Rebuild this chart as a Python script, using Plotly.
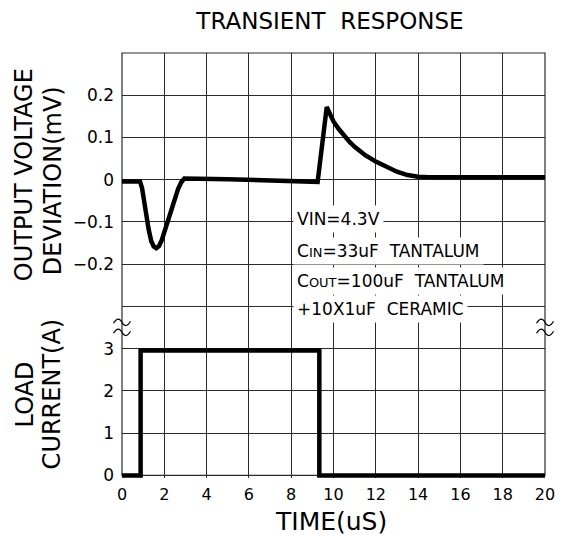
import plotly.graph_objects as go

# ---------------- data ----------------
t_v = [0, 0.85, 0.95, 1.1, 1.25, 1.38, 1.5, 1.62, 1.75, 1.88, 2.05, 2.25, 2.45, 2.65, 2.8, 2.95,
       5.0, 7.5, 9.25, 9.68, 9.8, 10.0, 10.25, 10.5, 10.75, 11.0, 11.5, 12.0, 12.5, 13.0, 13.5,
       14.0, 14.5, 20.0]
v_dev = [-0.004, -0.004, -0.02, -0.07, -0.115, -0.145, -0.158, -0.162, -0.157, -0.143, -0.115,
         -0.08, -0.048, -0.022, -0.006, 0.003, 0.001, -0.003, -0.005, 0.172, 0.158, 0.138, 0.12,
         0.104, 0.09, 0.078, 0.058, 0.043, 0.03, 0.019, 0.011, 0.007, 0.006, 0.006]

t_i = [0, 0.88, 0.88, 9.33, 9.33, 20]
i_load = [0, 0, 2.96, 2.96, 0, 0]

x_ticks = list(range(0, 21, 2))
v_ticks = [-0.3, -0.2, -0.1, 0, 0.1, 0.2, 0.3]
v_ticktext = ["", "−0.2", "−0.1", "0", "0.1", "0.2", ""]
i_ticks = [0, 1, 2, 3, 4]
i_ticktext = ["0", "1", "2", "3", ""]

notes = ["VIN=4.3V",
         "C<span style='font-size:13px'>IN</span>=33uF\u00a0 TANTALUM",
         "C<span style='font-size:13px'>OUT</span>=100uF\u00a0 TANTALUM",
         "+10X1uF\u00a0 CERAMIC"]

# ---------------- layout geometry ----------------
# The page body has an 8px margin, so the figure is drawn 8px in from the window corner.
OFF = 8
W, H = 563 - OFF, 536 - OFF
L, R = 122 - OFF, 545 - OFF          # plot frame (window pixels minus offset)
TOP = 53 - OFF
ZERO = 475 - OFF
ROW = (ZERO - TOP) / 10.0
I_MIN = -0.06
BOT = ZERO - I_MIN * ROW
PH = BOT - TOP


def px(xp):
    """window pixel x -> paper x"""
    return (xp - OFF - L) / (R - L)


def py(yp):
    """window pixel y -> paper y"""
    return (BOT - (yp - OFF)) / PH


split = (BOT - (TOP + 6 * ROW)) / PH
FONT = "DejaVu Sans"
GRID = "#2a2a2a"

fig = go.Figure()
fig.add_trace(go.Scatter(x=t_v, y=v_dev, mode="lines", xaxis="x", yaxis="y",
                         line=dict(color="black", width=4.5), hoverinfo="skip"))
fig.add_trace(go.Scatter(x=t_i, y=i_load, mode="lines", xaxis="x", yaxis="y2",
                         line=dict(color="black", width=4.5), hoverinfo="skip"))

axis_common = dict(showgrid=True, gridcolor=GRID, gridwidth=1, zeroline=False,
                   showline=False, ticks="", tickmode="array")

fig.update_layout(
    width=W, height=H,
    margin=dict(l=L, r=W - R, t=TOP, b=H - BOT, pad=0, autoexpand=False),
    plot_bgcolor="white", paper_bgcolor="white", showlegend=False,
    font=dict(family=FONT, color="black"),
    title=dict(text="TRANSIENT\u00a0 RESPONSE", x=px(330), xref="paper", xanchor="center",
               y=1 - (21 - OFF) / H, yref="container", yanchor="middle",
               font=dict(family=FONT, size=23, color="black")),
    xaxis=dict(domain=[0, 1], range=[0, 20], anchor="y2", tickvals=x_ticks,
               tickfont=dict(size=16), ticklabelstandoff=5, **axis_common),
    yaxis=dict(domain=[split, 1], range=[-0.3, 0.3], anchor="x", tickvals=v_ticks,
               ticktext=v_ticktext, tickfont=dict(size=17), ticklabelstandoff=7, **axis_common),
    yaxis2=dict(domain=[0, split], range=[I_MIN, 4], anchor="x", tickvals=i_ticks,
                ticktext=i_ticktext, tickfont=dict(size=17), ticklabelstandoff=7, **axis_common),
)

shapes = []
# hide grid stubs below zero line
shapes.append(dict(type="rect", xref="paper", yref="paper", x0=-0.01, x1=1.01, y0=0, y1=py(475.6),
                   fillcolor="white", line=dict(width=0), layer="between"))
# blank area behind the note block
shapes.append(dict(type="rect", xref="x", yref="paper", x0=8.08, x1=12.75, y0=py(322), y1=py(205),
                   fillcolor="white", line=dict(width=0), layer="between"))
# frame
shapes.append(dict(type="rect", xref="paper", yref="paper", x0=0, x1=1, y0=py(475), y1=1,
                   line=dict(color=GRID, width=1.2), fillcolor="rgba(0,0,0,0)", layer="between"))
shapes.append(dict(type="line", xref="paper", yref="paper", x0=0, x1=1, y0=split, y1=split,
                   line=dict(color=GRID, width=1), layer="between"))
# axis-break marks
tilde = "M -8.5,-1 C -5,5 -2,4 0,0 C 2,-4 5,-5 8.5,1"
for xa in (0, 1):
    for yb in (322, 332):
        shapes.append(dict(type="path", xref="paper", yref="paper", xsizemode="pixel",
                           ysizemode="pixel", xanchor=xa, yanchor=py(yb), path=tilde,
                           line=dict(color="black", width=1.2), layer="above"))
fig.update_layout(shapes=shapes)

ann = []
for txt, yc in zip(notes, [219, 251, 281, 309]):
    ann.append(dict(text=txt, xref="paper", yref="paper", x=px(293), y=py(yc), xanchor="left",
                    yanchor="middle", showarrow=False, bgcolor="white", borderpad=3,
                    font=dict(family=FONT, size=17, color="black")))
for txt, xc, yc in [("OUTPUT VOLTAGE", 24, 175), ("DEVIATION(mV)", 53, 181),
                    ("LOAD", 25, 394), ("CURRENT(A)", 52, 394)]:
    ann.append(dict(text=txt, xref="paper", yref="paper", x=px(xc), y=py(yc), xanchor="center",
                    yanchor="middle", showarrow=False, textangle=-90,
                    font=dict(family=FONT, size=24, color="black")))
ann.append(dict(text="TIME(uS)", xref="paper", yref="paper", x=px(331), y=py(521), xanchor="center",
                yanchor="middle", showarrow=False, font=dict(family=FONT, size=25, color="black")))
fig.update_layout(annotations=ann)

fig.write_html("out.html")
